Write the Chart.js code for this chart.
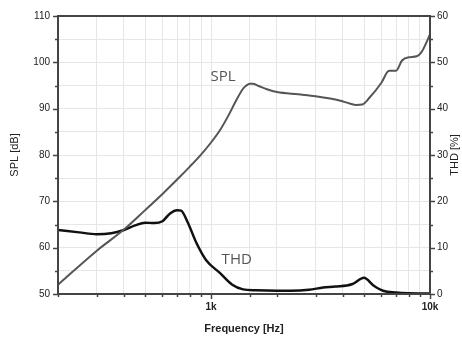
<!DOCTYPE html>
<html>
<head>
<meta charset="utf-8">
<script src="https://cdn.jsdelivr.net/npm/chart.js@4.4.1/dist/chart.umd.min.js"></script>
<style>
  html, body { margin: 0; padding: 0; background: #fff; }
  #wrap { width: 462px; height: 338px; }
</style>
</head>
<body>
<div id="wrap"><canvas id="myChart" width="462" height="338"></canvas></div>
<script>
// SPL curve (left axis, dB)
var splFreq = [200, 300, 400, 500, 600, 700, 800, 900, 1000, 1100, 1200, 1300, 1400, 1450, 1500, 1550, 1650, 1800, 2000, 2500, 3000, 3500, 3900, 4300, 4600, 4900, 5300, 6000, 6500, 7000, 7450, 8000, 8700, 9200, 10000];
var splVals = [52, 59.3, 63.9, 68.1, 71.6, 74.7, 77.5, 80.1, 82.7, 85.4, 88.5, 91.7, 94.3, 95.0, 95.4, 95.4, 94.9, 94.2, 93.6, 93.1, 92.7, 92.2, 91.7, 91.1, 90.8, 90.9, 92.4, 95.6, 98.2, 98.2, 100.4, 101.1, 101.3, 102.4, 106];

// THD curve (right axis, %)
var thdFreq = [200, 250, 300, 350, 400, 450, 500, 550, 600, 650, 700, 730, 780, 860, 950, 1100, 1250, 1400, 1600, 2000, 2300, 2800, 3250, 3700, 4400, 5000, 5500, 6100, 7000, 8000, 10000];
var thdVals = [13.8, 13.3, 12.9, 13.1, 13.8, 14.8, 15.4, 15.3, 15.7, 17.4, 18.1, 18.0, 15.6, 10.9, 7.3, 4.5, 2.0, 1.0, 0.8, 0.7, 0.7, 0.9, 1.4, 1.6, 2.1, 3.5, 1.9, 0.7, 0.3, 0.15, 0.1];

var xLabels = { 1000: '1k', 10000: '10k' };

function pts(xs, ys) {
  var out = [];
  for (var i = 0; i < xs.length; i++) out.push({ x: xs[i], y: ys[i] });
  return out;
}

var fontFam = '"Liberation Sans", Arial, sans-serif';

// frame, tick marks, curve labels and the right title
var decor = {
  id: 'decor',
  afterDraw: function (chart) {
    var ctx = chart.ctx;
    var a = chart.chartArea;
    var sx = chart.scales.x, sy = chart.scales.y, sy2 = chart.scales.y2;
    ctx.save();
    ctx.strokeStyle = '#444';
    ctx.lineWidth = 1.5;
    ctx.beginPath();
    sx.ticks.forEach(function (t) {
      var px = Math.round(sx.getPixelForValue(t.value)) + 0.5;
      var len = xLabels[t.value] ? 5 : 3;
      ctx.moveTo(px, a.bottom); ctx.lineTo(px, a.bottom + len);
    });
    sy.ticks.forEach(function (t) {
      var py = Math.round(sy.getPixelForValue(t.value)) + 0.5;
      var len = t.value % 10 === 0 ? 5 : 3;
      ctx.moveTo(a.left - len, py); ctx.lineTo(a.left, py);
    });
    sy2.ticks.forEach(function (t) {
      var py = Math.round(sy2.getPixelForValue(t.value)) + 0.5;
      var len = t.value % 10 === 0 ? 5 : 3;
      ctx.moveTo(a.right, py); ctx.lineTo(a.right + len, py);
    });
    ctx.stroke();
    ctx.lineWidth = 2;
    ctx.strokeRect(a.left, a.top, a.right - a.left, a.bottom - a.top);

    ctx.fillStyle = '#555';
    ctx.font = '15px "Open Sans", sans-serif';
    ctx.textAlign = 'center';
    ctx.textBaseline = 'middle';
    ctx.fillText('SPL', sx.getPixelForValue(1134), sy.getPixelForValue(96.8));
    ctx.fillText('THD', sx.getPixelForValue(1310), sy2.getPixelForValue(7.3));

    ctx.fillStyle = '#222';
    ctx.font = '11px ' + fontFam;
    ctx.translate(455, (a.top + a.bottom) / 2);
    ctx.rotate(-Math.PI / 2);
    ctx.fillText('THD [%]', 0, 0);
    ctx.restore();
  }
};

var ctx = document.getElementById('myChart').getContext('2d');
var chart = new Chart(ctx, {
  type: 'line',
  data: {
    datasets: [{
      label: 'SPL',
      data: pts(splFreq, splVals),
      yAxisID: 'y',
      borderColor: '#555',
      borderWidth: 2,
      pointRadius: 0,
      cubicInterpolationMode: 'monotone'
    }, {
      label: 'THD',
      data: pts(thdFreq, thdVals),
      yAxisID: 'y2',
      borderColor: '#111',
      borderWidth: 2.5,
      pointRadius: 0,
      cubicInterpolationMode: 'monotone'
    }]
  },
  options: {
    responsive: false,
    animation: false,
    layout: { padding: { top: 16 } },
    plugins: { legend: { display: false }, tooltip: { enabled: false } },
    scales: {
      x: {
        type: 'logarithmic',
        min: 200,
        max: 10000,
        afterFit: function (s) { s.height = 44; },
        grid: { color: '#e6e6e6', drawTicks: false },
        border: { display: false },
        ticks: {
          autoSkip: false,
          maxRotation: 0,
          padding: 7,
          color: '#222',
          font: { family: fontFam, size: 10, weight: 'bold' },
          callback: function (v) { return xLabels[v] || ''; }
        },
        title: {
          display: true,
          text: 'Frequency [Hz]',
          color: '#222',
          padding: { top: 0, bottom: 2 },
          font: { family: fontFam, size: 11, weight: 'bold' }
        }
      },
      y: {
        position: 'left',
        min: 50,
        max: 110,
        afterFit: function (s) { s.width = 58; },
        grid: { color: '#e6e6e6', drawTicks: false },
        border: { display: false },
        ticks: {
          stepSize: 5,
          padding: 8,
          color: '#222',
          font: { family: fontFam, size: 10 },
          callback: function (v) { return v % 10 === 0 ? v : ''; }
        },
        title: {
          display: true,
          text: 'SPL [dB]',
          color: '#222',
          padding: { top: 8, bottom: 0 },
          font: { family: fontFam, size: 11 }
        }
      },
      y2: {
        position: 'right',
        min: 0,
        max: 60,
        afterFit: function (s) { s.width = 32; },
        grid: { drawOnChartArea: false, drawTicks: false },
        border: { display: false },
        ticks: {
          stepSize: 5,
          padding: 7,
          color: '#222',
          font: { family: fontFam, size: 10 },
          callback: function (v) { return v % 10 === 0 ? v : ''; }
        }
      }
    }
  },
  plugins: [decor]
});
</script>
</body>
</html>
